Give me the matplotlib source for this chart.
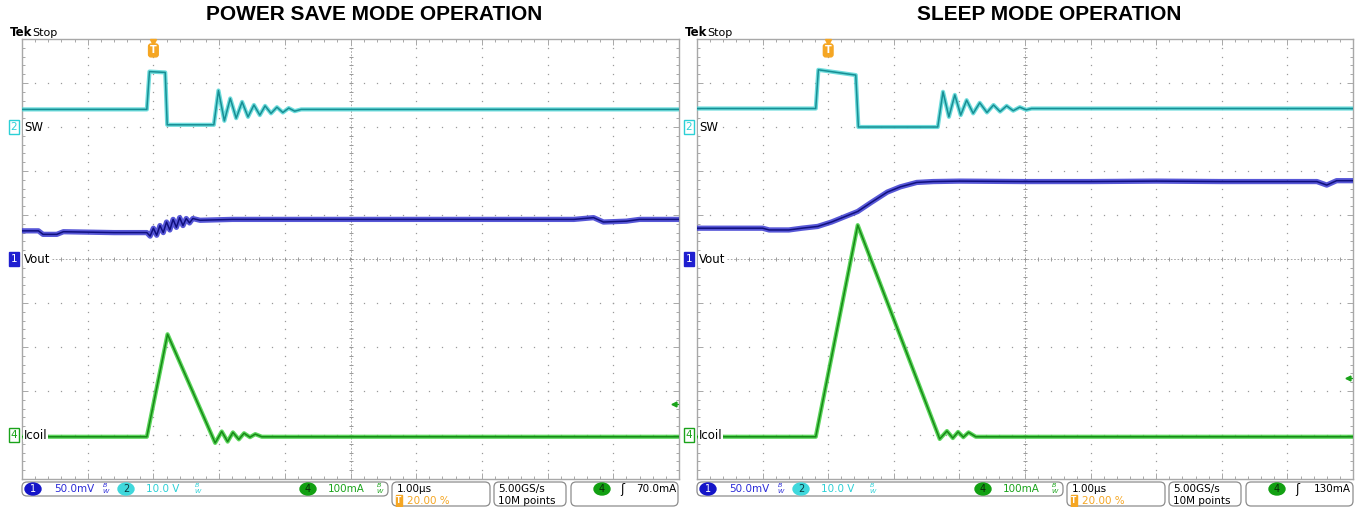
"""
Scope captures: power save vs sleep mode
"""

import numpy as np
import matplotlib
matplotlib.use("Agg")
import matplotlib.pyplot as plt
from matplotlib.patches import FancyBboxPatch, Ellipse
from matplotlib.transforms import blended_transform_factory

W, H = 1356, 507

# Data (time in us, trigger at t = 0, 1 us/div, 20 % pre-trigger)
# Power save mode
ps_sw_t = [-2.0, -0.10, -0.06, 0.18, 0.21, 0.92, 0.99, 1.08, 1.17, 1.26, 1.35, 1.44,
           1.53, 1.62, 1.70, 1.79, 1.88, 1.97, 2.06, 2.15, 2.25, 8.0]
ps_sw_v = [4.0, 4.0, 12.6, 12.4, 0.5, 0.5, 8.3, 1.4, 6.5, 2.0, 5.7, 2.3,
           5.0, 2.7, 4.8, 3.1, 4.5, 3.3, 4.3, 3.6, 4.0, 4.0]

ps_vout_t = [-2.0, -1.75, -1.68, -1.47, -1.37, -0.60, -0.10, -0.05, 0.0, 0.05, 0.10, 0.15,
             0.20, 0.25, 0.30, 0.35, 0.40, 0.45, 0.50, 0.55, 0.60, 0.71, 1.2, 3.0,
             6.4, 6.7, 6.85, 7.2, 7.4, 8.0]
ps_vout_mv = [32, 32, 28, 28, 31, 30, 30, 26, 35, 27, 38, 30,
              42, 33, 45, 36, 47, 38, 46, 41, 46, 44, 45, 45,
              45, 47, 42, 43, 45, 45]

ps_il_t = [-2.0, -0.10, 0.215, 0.94, 1.04, 1.13, 1.21, 1.30, 1.38, 1.47, 1.55, 1.65, 8.0]
ps_il_ma = [-4, -4, 229, -18, 8, -15, 6, -10, 4, -5, 2, -4, -4]

# Sleep mode
sl_sw_t = [-2.0, -0.19, -0.15, 0.42, 0.46, 1.67, 1.75, 1.84, 1.93, 2.02, 2.11, 2.21,
           2.31, 2.42, 2.52, 2.62, 2.72, 2.82, 2.92, 3.02, 3.10, 8.0]
sl_sw_v = [4.2, 4.2, 13.0, 11.8, 0.0, 0.0, 8.0, 2.3, 7.3, 2.7, 6.1, 3.1,
           5.5, 3.3, 5.0, 3.5, 4.8, 3.7, 4.5, 3.9, 4.2, 4.2]

sl_vout_t = [-2.0, -1.0, -0.9, -0.6, -0.4, -0.16, 0.05, 0.25, 0.45, 0.65, 0.90, 1.10,
             1.35, 1.60, 2.0, 3.0, 4.0, 5.0, 6.0, 7.45, 7.60, 7.75, 8.0]
sl_vout_mv = [35, 35, 33, 33, 35, 37, 42, 48, 54, 64, 76, 82,
              87, 88, 88.5, 88, 88, 88.5, 88, 88, 84, 89, 89]

sl_il_t = [-2.0, -0.19, 0.45, 1.70, 1.81, 1.90, 1.98, 2.06, 2.14, 2.25, 8.0]
sl_il_ma = [-4, -4, 477, -9, 9, -7, 7, -5, 6, -4, -4]

# Channel setup: scale per div, position in div
SW_SCALE, SW_POS = 10.0, 3.0
VOUT_SCALE, VOUT_POS = 50.0, 0.0
IL_SCALE, IL_POS = 100.0, -4.0
ps_trig_ma = 70.0
sl_trig_ma = 130.0

titles = ["POWER SAVE MODE OPERATION", "SLEEP MODE OPERATION"]
trig_texts = ["70.0mA", "130mA"]

# Colors
SW_LIGHT, SW_DARK = "#55d6d6", "#178e94"
VO_LIGHT, VO_DARK = "#3a3ad0", "#10107e"
IL_LIGHT, IL_DARK = "#3fcf3f", "#178a17"
ORANGE = "#f5a623"
GRID = "#9a9a9a"
BORDER = "#a8a8a8"
BLUE_TXT = "#2b2bd8"
CYAN_TXT = "#2cd0d6"
GREEN_TXT = "#1aa31a"


def draw_grid(ax):
    ax.set_xlim(-2, 8)
    ax.set_ylim(-5, 5)
    mx = np.arange(-2, 8.001, 0.2)
    my = np.arange(-5, 5.001, 0.2)
    for gx in range(-1, 8):
        if gx == 3:
            continue
        ax.plot(np.full_like(my, gx), my, ls="none", marker="s", ms=0.9, mew=0, color=GRID, zorder=1)
    for gy in range(-4, 5):
        if gy == 0:
            continue
        ax.plot(mx, np.full_like(mx, gy), ls="none", marker="s", ms=0.9, mew=0, color=GRID, zorder=1)
    # center cross with small ticks
    ax.axhline(0, color=GRID, lw=0.6, ls=(0, (2, 2)), zorder=1)
    ax.axvline(3, color=GRID, lw=0.6, ls=(0, (2, 2)), zorder=1)
    ax.plot(mx, np.zeros_like(mx), ls="none", marker="|", ms=3.5, mew=0.7, color=GRID, zorder=1)
    ax.plot(np.full_like(my, 3), my, ls="none", marker="_", ms=3.5, mew=0.7, color=GRID, zorder=1)
    # border
    ax.set_xticks(np.arange(-2, 8.01, 1))
    ax.set_xticks(mx, minor=True)
    ax.set_yticks(np.arange(-5, 5.01, 1))
    ax.set_yticks(my, minor=True)
    ax.tick_params(which="both", direction="in", top=True, right=True,
                   labelbottom=False, labelleft=False, color=BORDER, width=0.7)
    ax.tick_params(which="major", length=4)
    ax.tick_params(which="minor", length=2)
    for s in ax.spines.values():
        s.set_color(BORDER)
        s.set_linewidth(1.0)


def draw_trace(ax, t, v, scale, pos, light, dark, lw=3.2):
    y = np.asarray(v, dtype=float) / scale + pos
    ax.plot(t, y, color=light, lw=lw, alpha=0.85, solid_joinstyle="round", zorder=3)
    ax.plot(t, y, color=dark, lw=1.1, solid_joinstyle="round", zorder=4)


def draw_panel(ax, sw, vout, il, trig_ma):
    draw_grid(ax)
    draw_trace(ax, sw[0], sw[1], SW_SCALE, SW_POS, SW_LIGHT, SW_DARK, lw=3.0)
    draw_trace(ax, vout[0], vout[1], VOUT_SCALE, VOUT_POS, VO_LIGHT, VO_DARK, lw=3.8)
    draw_trace(ax, il[0], il[1], IL_SCALE, IL_POS, IL_LIGHT, IL_DARK, lw=3.0)

    tr = blended_transform_factory(ax.transAxes, ax.transData)
    # channel tags on the left edge
    tags = [("2", SW_POS, "white", CYAN_TXT, CYAN_TXT, "SW"),
            ("1", VOUT_POS, "#1f1fd0", "#1f1fd0", "white", "Vout"),
            ("4", IL_POS, "white", GREEN_TXT, GREEN_TXT, "Icoil")]
    for num, ypos, fc, ec, tc, name in tags:
        ax.text(-0.0125, ypos, num, transform=tr, ha="center", va="center", fontsize=7.5,
                color=tc, clip_on=False, zorder=6,
                bbox=dict(boxstyle="square,pad=0.15", fc=fc, ec=ec, lw=1.0))
        ax.text(0.003, ypos, name, transform=tr, ha="left", va="center", fontsize=8.5,
                color="black", zorder=6, bbox=dict(boxstyle="square,pad=0.05", fc="white", ec="none"))

    # trigger position marker
    ax.plot(0, 4.94, marker="v", ms=4.5, color=ORANGE, clip_on=False, zorder=6)
    ax.text(0, 4.74, "T", ha="center", va="center", fontsize=7, fontweight="bold", color="white",
            zorder=6, bbox=dict(boxstyle="round,pad=0.15,rounding_size=0.25", fc=ORANGE, ec=ORANGE))

    # trigger level marker
    lvl = trig_ma / IL_SCALE + IL_POS
    ax.plot([7.9, 8.0], [lvl, lvl], color=GREEN_TXT, lw=0.9, zorder=6)
    ax.plot(7.92, lvl, marker="<", ms=3.5, color=GREEN_TXT, zorder=6)


def status_bar(ov, dx, trig_text):
    def box(x0, x1, y0, y1):
        ov.add_patch(FancyBboxPatch((x0 + dx, y0), x1 - x0, y1 - y0,
                                    boxstyle="round,pad=0,rounding_size=5",
                                    fc="white", ec="#8c8c8c", lw=0.9))

    def chan(x, num, fc, tc):
        ov.add_patch(Ellipse((x + dx, 489), 16, 12, fc=fc, ec=fc))
        ov.text(x + dx, 489.5, num, ha="center", va="center", fontsize=7, color=tc)

    def bw(x, c):
        ov.text(x + dx, 489, "$^{B}_{W}$", ha="center", va="center", fontsize=6.5, color=c)

    box(22, 388, 482, 496)
    box(392, 490, 482, 506)
    box(494, 566, 482, 506)
    box(571, 678, 482, 506)

    chan(33, "1", "#1414c8", "white")
    ov.text(54 + dx, 489, "50.0mV", ha="left", va="center", fontsize=7.5, color=BLUE_TXT)
    bw(106, BLUE_TXT)
    chan(126, "2", "#3fd8dc", "#0a3a40")
    ov.text(146 + dx, 489, "10.0 V", ha="left", va="center", fontsize=7.5, color=CYAN_TXT)
    bw(198, CYAN_TXT)
    chan(308, "4", "#12a012", "#0b2a0b")
    ov.text(328 + dx, 489, "100mA", ha="left", va="center", fontsize=7.5, color=GREEN_TXT)
    bw(380, GREEN_TXT)

    ov.text(397 + dx, 489, "1.00\u00b5s", ha="left", va="center", fontsize=7.5, color="black")
    ov.text(399 + dx, 500.5, "T", ha="center", va="center", fontsize=5.5, fontweight="bold", color="white",
            bbox=dict(boxstyle="square,pad=0.1", fc=ORANGE, ec=ORANGE))
    ov.text(407 + dx, 500.5, "20.00 %", ha="left", va="center", fontsize=7.5, color=ORANGE)

    ov.text(498 + dx, 489, "5.00GS/s", ha="left", va="center", fontsize=7.5, color="black")
    ov.text(498 + dx, 500.5, "10M points", ha="left", va="center", fontsize=7.5, color="black")

    chan(602, "4", "#12a012", "#0b2a0b")
    ov.text(622 + dx, 489, "\u0283", ha="center", va="center", fontsize=8.5, color="black")
    ov.text(676 + dx, 489, trig_text, ha="right", va="center", fontsize=7.5, color="black")


fig = plt.figure(figsize=(W / 100, H / 100), dpi=100)
fig.patch.set_facecolor("white")

panels = [
    (22, 679, (ps_sw_t, ps_sw_v), (ps_vout_t, ps_vout_mv), (ps_il_t, ps_il_ma), ps_trig_ma),
    (697, 1353, (sl_sw_t, sl_sw_v), (sl_vout_t, sl_vout_mv), (sl_il_t, sl_il_ma), sl_trig_ma),
]
top, bottom = 39, 479
for x0, x1, sw, vout, il, trig in panels:
    ax = fig.add_axes([x0 / W, 1 - bottom / H, (x1 - x0) / W, (bottom - top) / H])
    draw_panel(ax, sw, vout, il, trig)

# overlay in pixel coordinates for the header and status bar
ov = fig.add_axes([0, 0, 1, 1], zorder=10)
ov.set_xlim(0, W)
ov.set_ylim(H, 0)
ov.axis("off")

for i, (x0, x1, *_rest) in enumerate(panels):
    dx = x0 - 22
    ov.text((x0 + x1) / 2 + 24, 15, titles[i], ha="center", va="center", fontsize=15,
            fontweight="bold", family="Liberation Sans", color="black")
    ov.text(x0 - 12, 33, "Tek", ha="left", va="center", fontsize=8.5, fontweight="bold", color="black")
    ov.text(x0 + 10, 33, "Stop", ha="left", va="center", fontsize=8, color="black")
    status_bar(ov, dx, trig_texts[i])

fig.savefig("out.png", dpi=100)
